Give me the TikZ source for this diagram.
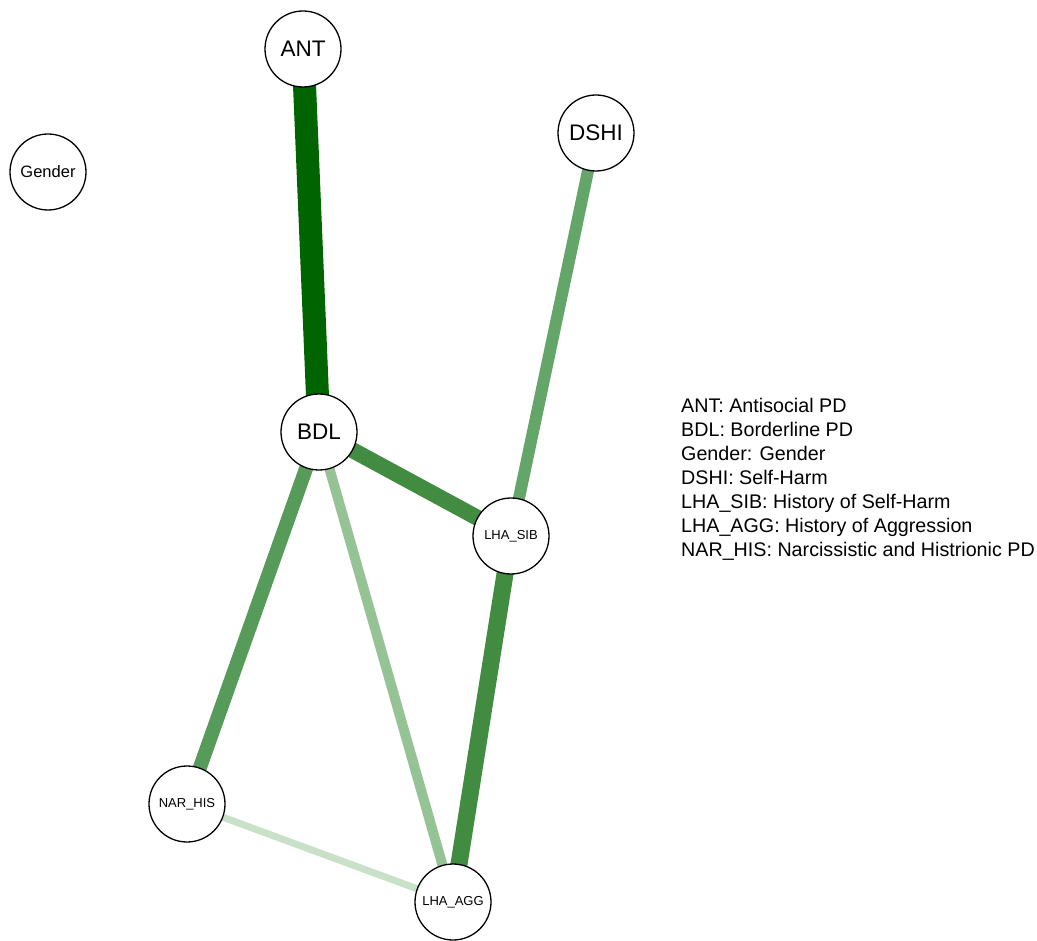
\documentclass[tikz,border=0pt]{standalone}
\usepackage{fontspec}
\setmainfont{Liberation Sans}
\usetikzlibrary{backgrounds}
\definecolor{eA}{RGB}{0,100,0}
\definecolor{eB}{RGB}{66,140,66}
\definecolor{eC}{RGB}{100,165,105}
\definecolor{eD}{RGB}{87,155,90}
\definecolor{eE}{RGB}{150,195,150}
\definecolor{eF}{RGB}{200,225,200}
\tikzset{
  vnode/.style={circle,draw=black,line width=1.3pt,fill=white,minimum size=76pt,inner sep=0pt},
  big/.style={font=\fontsize{22.5}{24}\selectfont},
  mid/.style={font=\fontsize{16.5}{18}\selectfont},
  small/.style={font=\fontsize{13}{14}\selectfont},
  edge/.style={line cap=butt},
  legend/.style={anchor=north west,align=left,font=\fontsize{19.7}{24}\selectfont,inner sep=0pt}
}
\begin{document}
\begin{tikzpicture}[x=1pt,y=-1pt]
\useasboundingbox (0,0) rectangle (1037,941);
\node[vnode,big] (ANT) at (303,49) {ANT};
\node[vnode,mid] (Gender) at (48,172) {Gender};
\node[vnode,big] (DSHI) at (596,133) {DSHI};
\node[vnode,big] (BDL) at (319,432) {BDL};
\node[vnode,small] (SIB) at (511,536) {LHA\_SIB};
\node[vnode,small] (NAR) at (187,804) {NAR\_HIS};
\node[vnode,small] (AGG) at (453,902) {LHA\_AGG};
\begin{scope}[on background layer]
\draw[edge,eA,line width=23pt] (ANT.center) -- (BDL.center);
\draw[edge,eC,line width=12pt] (DSHI.center) -- (SIB.center);
\draw[edge,eB,line width=16pt] (BDL.center) -- (SIB.center);
\draw[edge,eD,line width=14pt] (BDL.center) -- (NAR.center);
\draw[edge,eE,line width=10pt] (BDL.center) -- (AGG.center);
\draw[edge,eB,line width=17pt] (SIB.center) -- (AGG.center);
\draw[edge,eF,line width=7pt] (NAR.center) -- (AGG.center);
\end{scope}
\node[legend] (leg) at (681,398) {ANT: Antisocial PD\\BDL: Borderline PD\\Gender: Gender\\DSHI: Self-Harm\\LHA\_SIB: History of Self-Harm\\LHA\_AGG: History of Aggression\\NAR\_HIS: Narcissistic and Histrionic PD};
\end{tikzpicture}
\end{document}
